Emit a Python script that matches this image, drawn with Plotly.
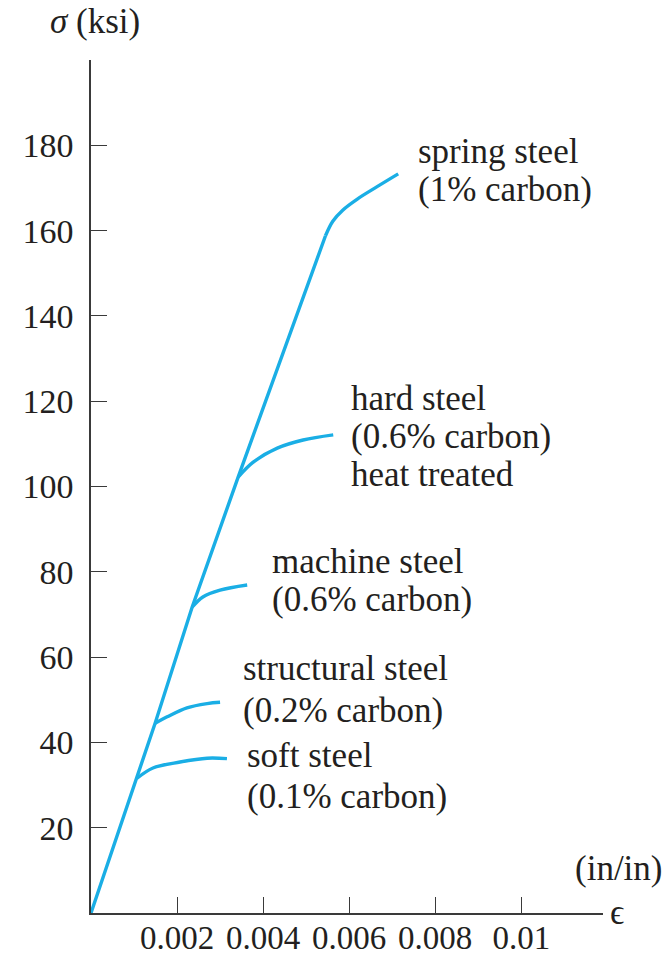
import plotly.graph_objects as go

# ---- data (strain in in/in, stress in ksi) ----
main_eps = [0.0, 0.00107, 0.00149, 0.00235, 0.00342, 0.00545]
main_sig = [0.0, 31.6, 44.5, 71.7, 102.2, 158.8]

soft_eps = [0.00107, 0.00144, 0.00207, 0.00270, 0.00316]
soft_sig = [31.6, 34.0, 35.4, 36.3, 36.2]

struct_eps = [0.00149, 0.00177, 0.00223, 0.00270, 0.00300]
struct_sig = [44.5, 46.0, 48.1, 49.1, 49.4]

machine_eps = [0.00235, 0.00260, 0.00300, 0.00363]
machine_sig = [71.7, 74.1, 75.7, 76.9]

hard_eps = [0.00342, 0.00377, 0.00433, 0.00493, 0.00563]
hard_sig = [102.2, 105.7, 109.0, 110.9, 112.1]

spring_eps = [0.00545, 0.00562, 0.00585, 0.00619, 0.00665, 0.00714]
spring_sig = [158.8, 162.2, 164.8, 167.4, 170.3, 173.3]

x_tickvals = [0.002, 0.004, 0.006, 0.008, 0.01]
x_ticktext = ["0.002", "0.004", "0.006", "0.008", "0.01"]
y_tickvals = [20, 40, 60, 80, 100, 120, 140, 160, 180]
y_ticktext = ["20", "40", "60", "80", "100", "120", "140", "160", "180"]

labels = [
    # (x, [y per line], [text lines])
    (0.00756, [178.6, 169.7], ["spring steel", "(1% carbon)"]),
    (0.00600, [120.7, 111.8, 102.9], ["hard steel", "(0.6% carbon)", "heat treated"]),
    (0.00416, [82.3, 73.4], ["machine steel", "(0.6% carbon)"]),
    (0.00349, [57.4, 47.4], ["structural steel", "(0.2% carbon)"]),
    (0.00358, [37.0, 27.2], ["soft steel", "(0.1% carbon)"]),
]

LINE_COLOR = "#1aaee5"
FONT = "Liberation Serif"
TXT = "#231f20"
ANN_SIZE = 35
TICK_SIZE = 34
XTICK_SIZE = 33

fig = go.Figure()
fig.add_trace(go.Scatter(x=main_eps, y=main_sig, mode="lines",
                         line=dict(color=LINE_COLOR, width=3.4), hoverinfo="skip"))
for ex, sy in [(soft_eps, soft_sig), (struct_eps, struct_sig), (machine_eps, machine_sig),
               (hard_eps, hard_sig), (spring_eps, spring_sig)]:
    fig.add_trace(go.Scatter(x=ex, y=sy, mode="lines",
                             line=dict(color=LINE_COLOR, width=3.4, shape="spline", smoothing=1.0),
                             hoverinfo="skip"))

annotations = []
for x, ys, lines in labels:
    for yy, t in zip(ys, lines):
        annotations.append(dict(x=x, y=yy, xref="x", yref="y", text=t, showarrow=False,
                                xanchor="left", yanchor="middle",
                                font=dict(family=FONT, size=ANN_SIZE, color=TXT)))

L, R, T, B = 91, 66, 60, 47
W, H = 669, 960
pw, ph = W - L - R, H - T - B


def px(xp, yp):
    # pixel position on the page -> paper fraction
    return (xp - L) / pw, (H - yp - B) / ph


for (xp, yp, t, anchor) in [(95, 22, "<i>σ</i> (ksi)", "center"),
                            (664, 868, "(in/in)", "right"),
                            (608, 912, "ϵ", "left")]:
    xx, yy = px(xp, yp)
    annotations.append(dict(x=xx, y=yy, xref="paper", yref="paper", text=t,
                            showarrow=False, xanchor=anchor, yanchor="middle",
                            font=dict(family=FONT, size=ANN_SIZE, color=TXT)))

fig.update_layout(
    width=W, height=H,
    margin=dict(l=L, r=R, t=T, b=B, pad=0, autoexpand=False),
    paper_bgcolor="white", plot_bgcolor="white",
    showlegend=False,
    annotations=annotations,
    xaxis=dict(range=[0, 0.0119], showgrid=False, zeroline=False, automargin=False,
               showline=True, linecolor="#3a3a3a", linewidth=1.6,
               ticks="inside", ticklen=16, tickwidth=1.4, tickcolor="#3a3a3a",
               tickvals=x_tickvals, ticktext=x_ticktext, ticklabelstandoff=-5,
               tickfont=dict(family=FONT, size=XTICK_SIZE, color=TXT)),
    yaxis=dict(range=[0, 200], showgrid=False, zeroline=False, automargin=False,
               showline=True, linecolor="#3a3a3a", linewidth=1.6,
               ticks="inside", ticklen=16, tickwidth=1.4, tickcolor="#3a3a3a",
               tickvals=y_tickvals, ticktext=y_ticktext, ticklabelstandoff=9,
               tickfont=dict(family=FONT, size=TICK_SIZE, color=TXT)),
)

fig.write_html("out.html", config={"displayModeBar": False},
               post_script="document.body.style.margin='0';document.body.style.overflow='hidden';")
